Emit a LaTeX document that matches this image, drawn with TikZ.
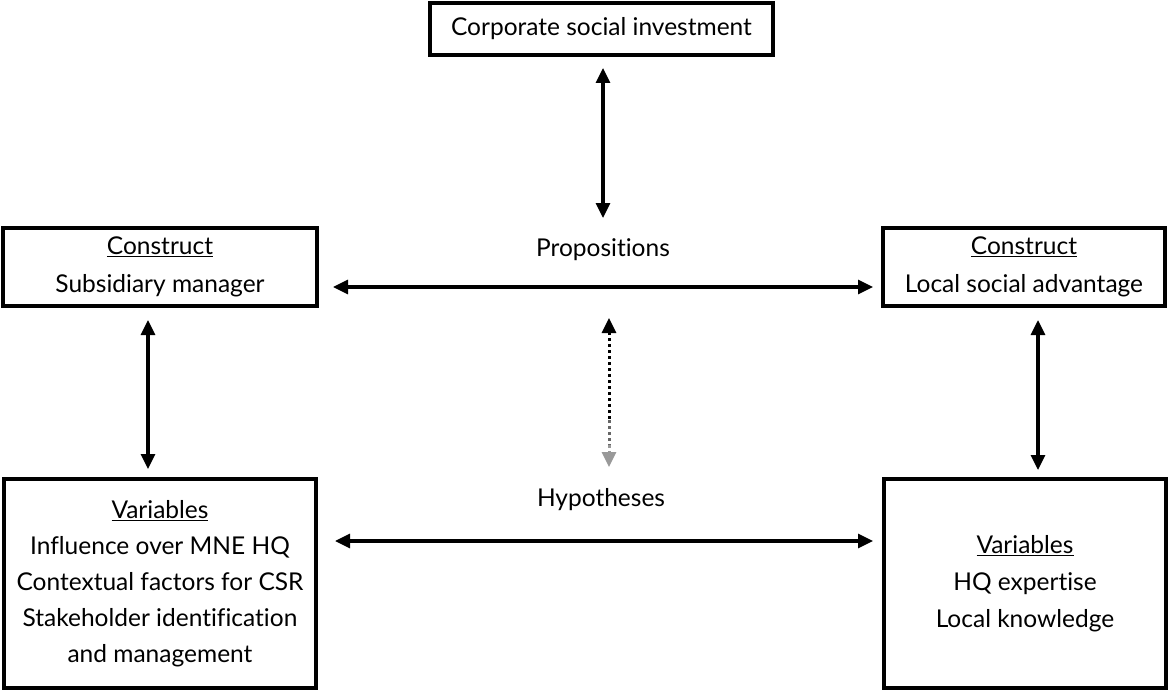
\documentclass[tikz,border=0pt]{standalone}
\usepackage{fontspec}
\setmainfont{Lato}[Ligatures={NoCommon,NoRare}]
\usetikzlibrary{arrows.meta}
\tikzset{
  box/.style={draw, line width=3.6pt, align=center, inner sep=0pt, font=\fontsize{24.5}{36}\selectfont},
  lbl/.style={font=\fontsize{24.5}{36}\selectfont},
  tip/.tip={Triangle[length=15pt,width=14pt]},
  link/.style={line width=3.2pt, tip-tip},
}
\begin{document}
\begin{tikzpicture}[x=1pt,y=-1pt]
\useasboundingbox (0,0) rectangle (1168,693);
\node[box, minimum width=343pt, minimum height=52pt] (top) at (601.5,29) {Corporate social investment};
\node[box, minimum width=314pt, minimum height=78pt] (lc) at (160,267) {\underline{Construct}\\[2pt]Subsidiary manager};
\node[box, minimum width=282pt, minimum height=78pt] (rc) at (1024,267) {\underline{Construct}\\[2pt]Local social advantage};
\node[box, minimum width=312pt, minimum height=209pt] (lv) at (160,583.5) {\underline{Variables}\\Influence over MNE HQ\\Contextual factors for CSR\\Stakeholder identification\\and management};
\node[box, minimum width=282pt, minimum height=209pt] (rv) at (1025,583.5) {\underline{Variables}\\[1pt]HQ expertise\\[1pt]Local knowledge};
\node[lbl] (prop) at (603,250) {Propositions};
\node[lbl] (hyp) at (601,500) {Hypotheses};
% coordinates for connector ends
\coordinate (t1) at (603,68);
\coordinate (t2) at (603,218);
\coordinate (p1) at (333,287);
\coordinate (p2) at (873,287);
\coordinate (h1) at (335,541);
\coordinate (h2) at (873,541);
\coordinate (l1) at (148,320);
\coordinate (l2) at (148,469);
\coordinate (r1) at (1038,320);
\coordinate (r2) at (1038,470);
\coordinate (d1) at (609,318);
\coordinate (dm) at (609,420);
\coordinate (dg) at (609,445);
\coordinate (d2) at (609,467);
\draw[link] (t1) -- (t2);
\draw[link] (p1) -- (p2);
\draw[link] (h1) -- (h2);
\draw[link] (l1) -- (l2);
\draw[link] (r1) -- (r2);
% dotted arrow fading to gray
\draw[line width=3pt, dash pattern=on 3pt off 3pt, tip-] (d1) -- (dm);
\draw[line width=3pt, dash pattern=on 3pt off 3pt, black!60] (dm) -- (dg);
\draw[line width=3pt, dash pattern=on 3pt off 3pt, black!40, -tip] (dg) -- (d2);
\end{tikzpicture}
\end{document}
